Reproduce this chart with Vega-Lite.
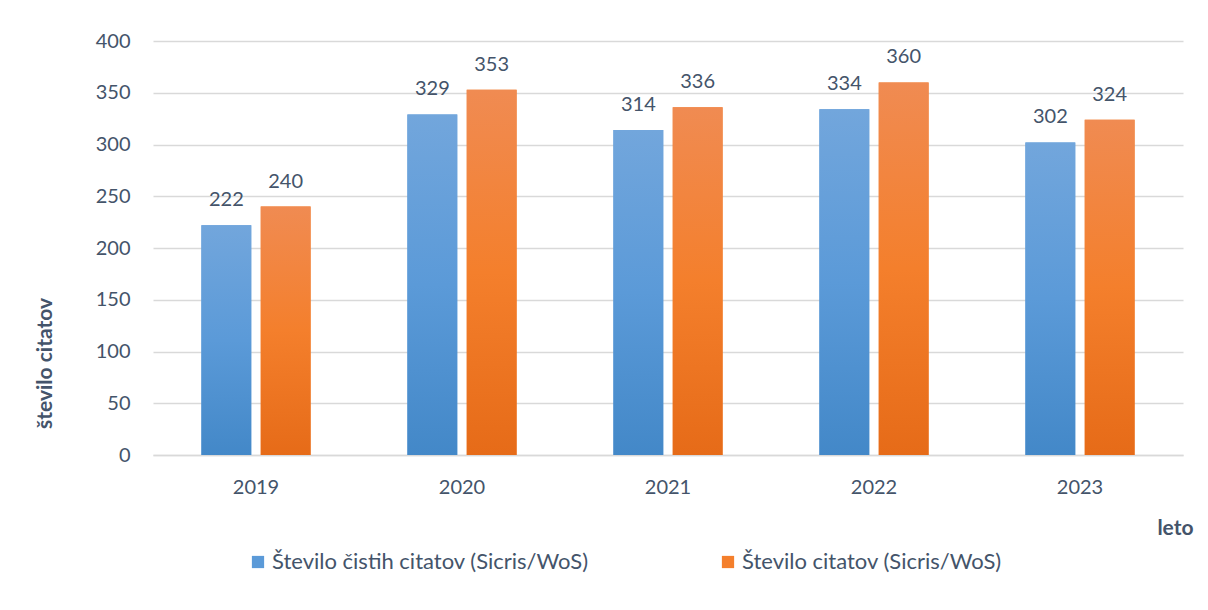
{
  "$schema": "https://vega.github.io/schema/vega-lite/v6.json",
  "width": 1030,
  "height": 414,
  "autosize": {"type": "none"},
  "padding": {"left": 153, "top": 41, "right": 25, "bottom": 155},
  "background": "white",
  "config": {
    "font": "Lato",
    "view": {"stroke": null},
    "axis": {"labelColor": "#44546a", "titleColor": "#44546a", "labelFont": "Lato", "titleFont": "Lato"}
  },
  "data": {
    "values": [
      {"leto": "2019", "serija": "Število čistih citatov (Sicris/WoS)", "vrednost": 222},
      {"leto": "2019", "serija": "Število citatov (Sicris/WoS)", "vrednost": 240},
      {"leto": "2020", "serija": "Število čistih citatov (Sicris/WoS)", "vrednost": 329},
      {"leto": "2020", "serija": "Število citatov (Sicris/WoS)", "vrednost": 353},
      {"leto": "2021", "serija": "Število čistih citatov (Sicris/WoS)", "vrednost": 314},
      {"leto": "2021", "serija": "Število citatov (Sicris/WoS)", "vrednost": 336},
      {"leto": "2022", "serija": "Število čistih citatov (Sicris/WoS)", "vrednost": 334},
      {"leto": "2022", "serija": "Število citatov (Sicris/WoS)", "vrednost": 360},
      {"leto": "2023", "serija": "Število čistih citatov (Sicris/WoS)", "vrednost": 302},
      {"leto": "2023", "serija": "Število citatov (Sicris/WoS)", "vrednost": 324}
    ]
  },
  "encoding": {
    "x": {
      "field": "leto", "type": "nominal",
      "scale": {"paddingInner": 0.47, "paddingOuter": 0.235},
      "axis": {
        "title": "leto", "labelAngle": 0, "labelFontSize": 20, "labelPadding": 22,
        "ticks": false, "domain": true, "domainColor": "#d9d9d9", "domainWidth": 1.5,
        "titleFontSize": 21, "titleFontWeight": "bold", "titleAnchor": "end",
        "titleX": 1040, "titleY": 73, "titleBaseline": "middle"
      }
    },
    "xOffset": {
      "field": "serija", "type": "nominal",
      "sort": ["Število čistih citatov (Sicris/WoS)", "Število citatov (Sicris/WoS)"],
      "scale": {"domain": ["Število čistih citatov (Sicris/WoS)", "Število citatov (Sicris/WoS)"], "paddingInner": 0.16, "paddingOuter": 0}
    },
    "y": {
      "field": "vrednost", "type": "quantitative",
      "scale": {"domain": [0, 400]},
      "axis": {
        "title": "število citatov", "values": [0, 50, 100, 150, 200, 250, 300, 350, 400],
        "labelFontSize": 20, "labelPadding": 23, "ticks": false, "domain": false,
        "gridColor": "#d9d9d9", "gridWidth": 1.5,
        "titleFontSize": 21, "titleFontWeight": "bold",
        "titleX": -108, "titleY": 322, "titleAnchor": "middle", "titleAngle": -90, "titleBaseline": "middle"
      }
    }
  },
  "layer": [
    {
      "mark": {"type": "bar"},
      "encoding": {
        "color": {
          "field": "serija", "type": "nominal",
          "scale": {
            "domain": ["Število čistih citatov (Sicris/WoS)", "Število citatov (Sicris/WoS)"],
            "range": ["#5b9ad8", "#f47f2c"]
          },
          "legend": {
            "title": null, "orient": "none", "legendX": 94, "legendY": 510,
            "direction": "horizontal", "symbolType": "square", "symbolSize": 150,
            "symbolStrokeWidth": 0, "labelFontSize": 22, "labelColor": "#44546a", "labelFont": "Lato",
            "labelOffset": 3, "columnPadding": 128, "labelLimit": 500
          }
        }
      }
    },
    {
      "transform": [{"filter": "datum.serija === 'Število čistih citatov (Sicris/WoS)'"}],
      "mark": {
        "type": "bar",
        "color": {"gradient": "linear", "x1": 0, "y1": 0, "x2": 0, "y2": 1, "stops": [{"offset": 0, "color": "#72a6dc"}, {"offset": 0.5, "color": "#5b9ad8"}, {"offset": 1, "color": "#4388c8"}]}
      },
      "encoding": {}
    },
    {
      "transform": [{"filter": "datum.serija === 'Število citatov (Sicris/WoS)'"}],
      "mark": {
        "type": "bar",
        "color": {"gradient": "linear", "x1": 0, "y1": 0, "x2": 0, "y2": 1, "stops": [{"offset": 0, "color": "#f08b52"}, {"offset": 0.5, "color": "#f47f2c"}, {"offset": 1, "color": "#e66b18"}]}
      },
      "encoding": {}
    },
    {
      "mark": {"type": "text", "baseline": "bottom", "dy": -15, "fontSize": 20, "color": "#44546a"},
      "encoding": {"text": {"field": "vrednost", "type": "quantitative"}}
    }
  ]
}
